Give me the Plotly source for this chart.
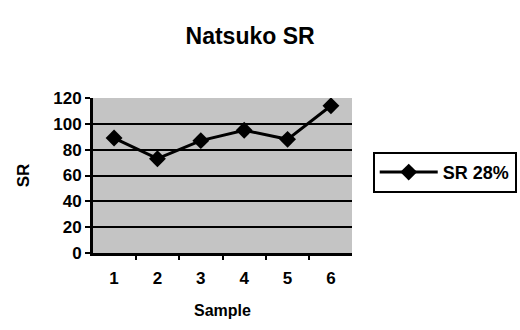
import plotly.graph_objects as go

samples = ["1", "2", "3", "4", "5", "6"]
sr_values = [89, 73, 87, 95, 88, 114]
series_name = "SR 28%"
y_ticks = [0, 20, 40, 60, 80, 100, 120]

font_family = "Liberation Sans, Arial, sans-serif"

fig = go.Figure()
fig.add_trace(go.Scatter(
    x=samples, y=sr_values, name=series_name, mode="lines+markers",
    line=dict(color="black", width=3),
    marker=dict(symbol="diamond", size=13, color="black"),
))

fig.update_layout(
    width=520, height=330,
    margin=dict(l=93, r=168, t=98, b=77, autoexpand=False),
    paper_bgcolor="white",
    plot_bgcolor="#c4c4c4",
    title=dict(text="Natsuko SR", x=0.481, xanchor="center", y=0.89, yanchor="middle",
               font=dict(family=font_family, size=23, color="black", weight="bold")),
    font=dict(family=font_family, color="black"),
    showlegend=True,
    legend=dict(x=1.08, xanchor="left", y=0.52, yanchor="middle",
                bordercolor="black", borderwidth=2, bgcolor="white",
                font=dict(family=font_family, size=18, color="black", weight="bold"),
                itemwidth=58),
)

fig.update_xaxes(
    type="category", automargin=False,
    title=dict(text="Sample", font=dict(size=16, family=font_family, weight="bold"), standoff=18),
    tickfont=dict(size=17, family=font_family, weight="bold"),
    ticklabelstandoff=8,
    tickson="boundaries", ticks="outside", ticklen=4, tickwidth=2, tickcolor="black",
    showline=True, linecolor="black", linewidth=3,
    showgrid=False, zeroline=False,
)
fig.update_yaxes(
    range=[0, 120], tickvals=y_ticks, automargin=False,
    title=dict(text="SR", font=dict(size=17, family=font_family, weight="bold"), standoff=20),
    tickfont=dict(size=17, family=font_family, weight="bold"),
    ticks="outside", ticklen=5, tickwidth=2, tickcolor="black",
    showline=True, linecolor="black", linewidth=3,
    showgrid=True, gridcolor="black", gridwidth=2,
    zeroline=False,
)

fig.write_html("out.html")
